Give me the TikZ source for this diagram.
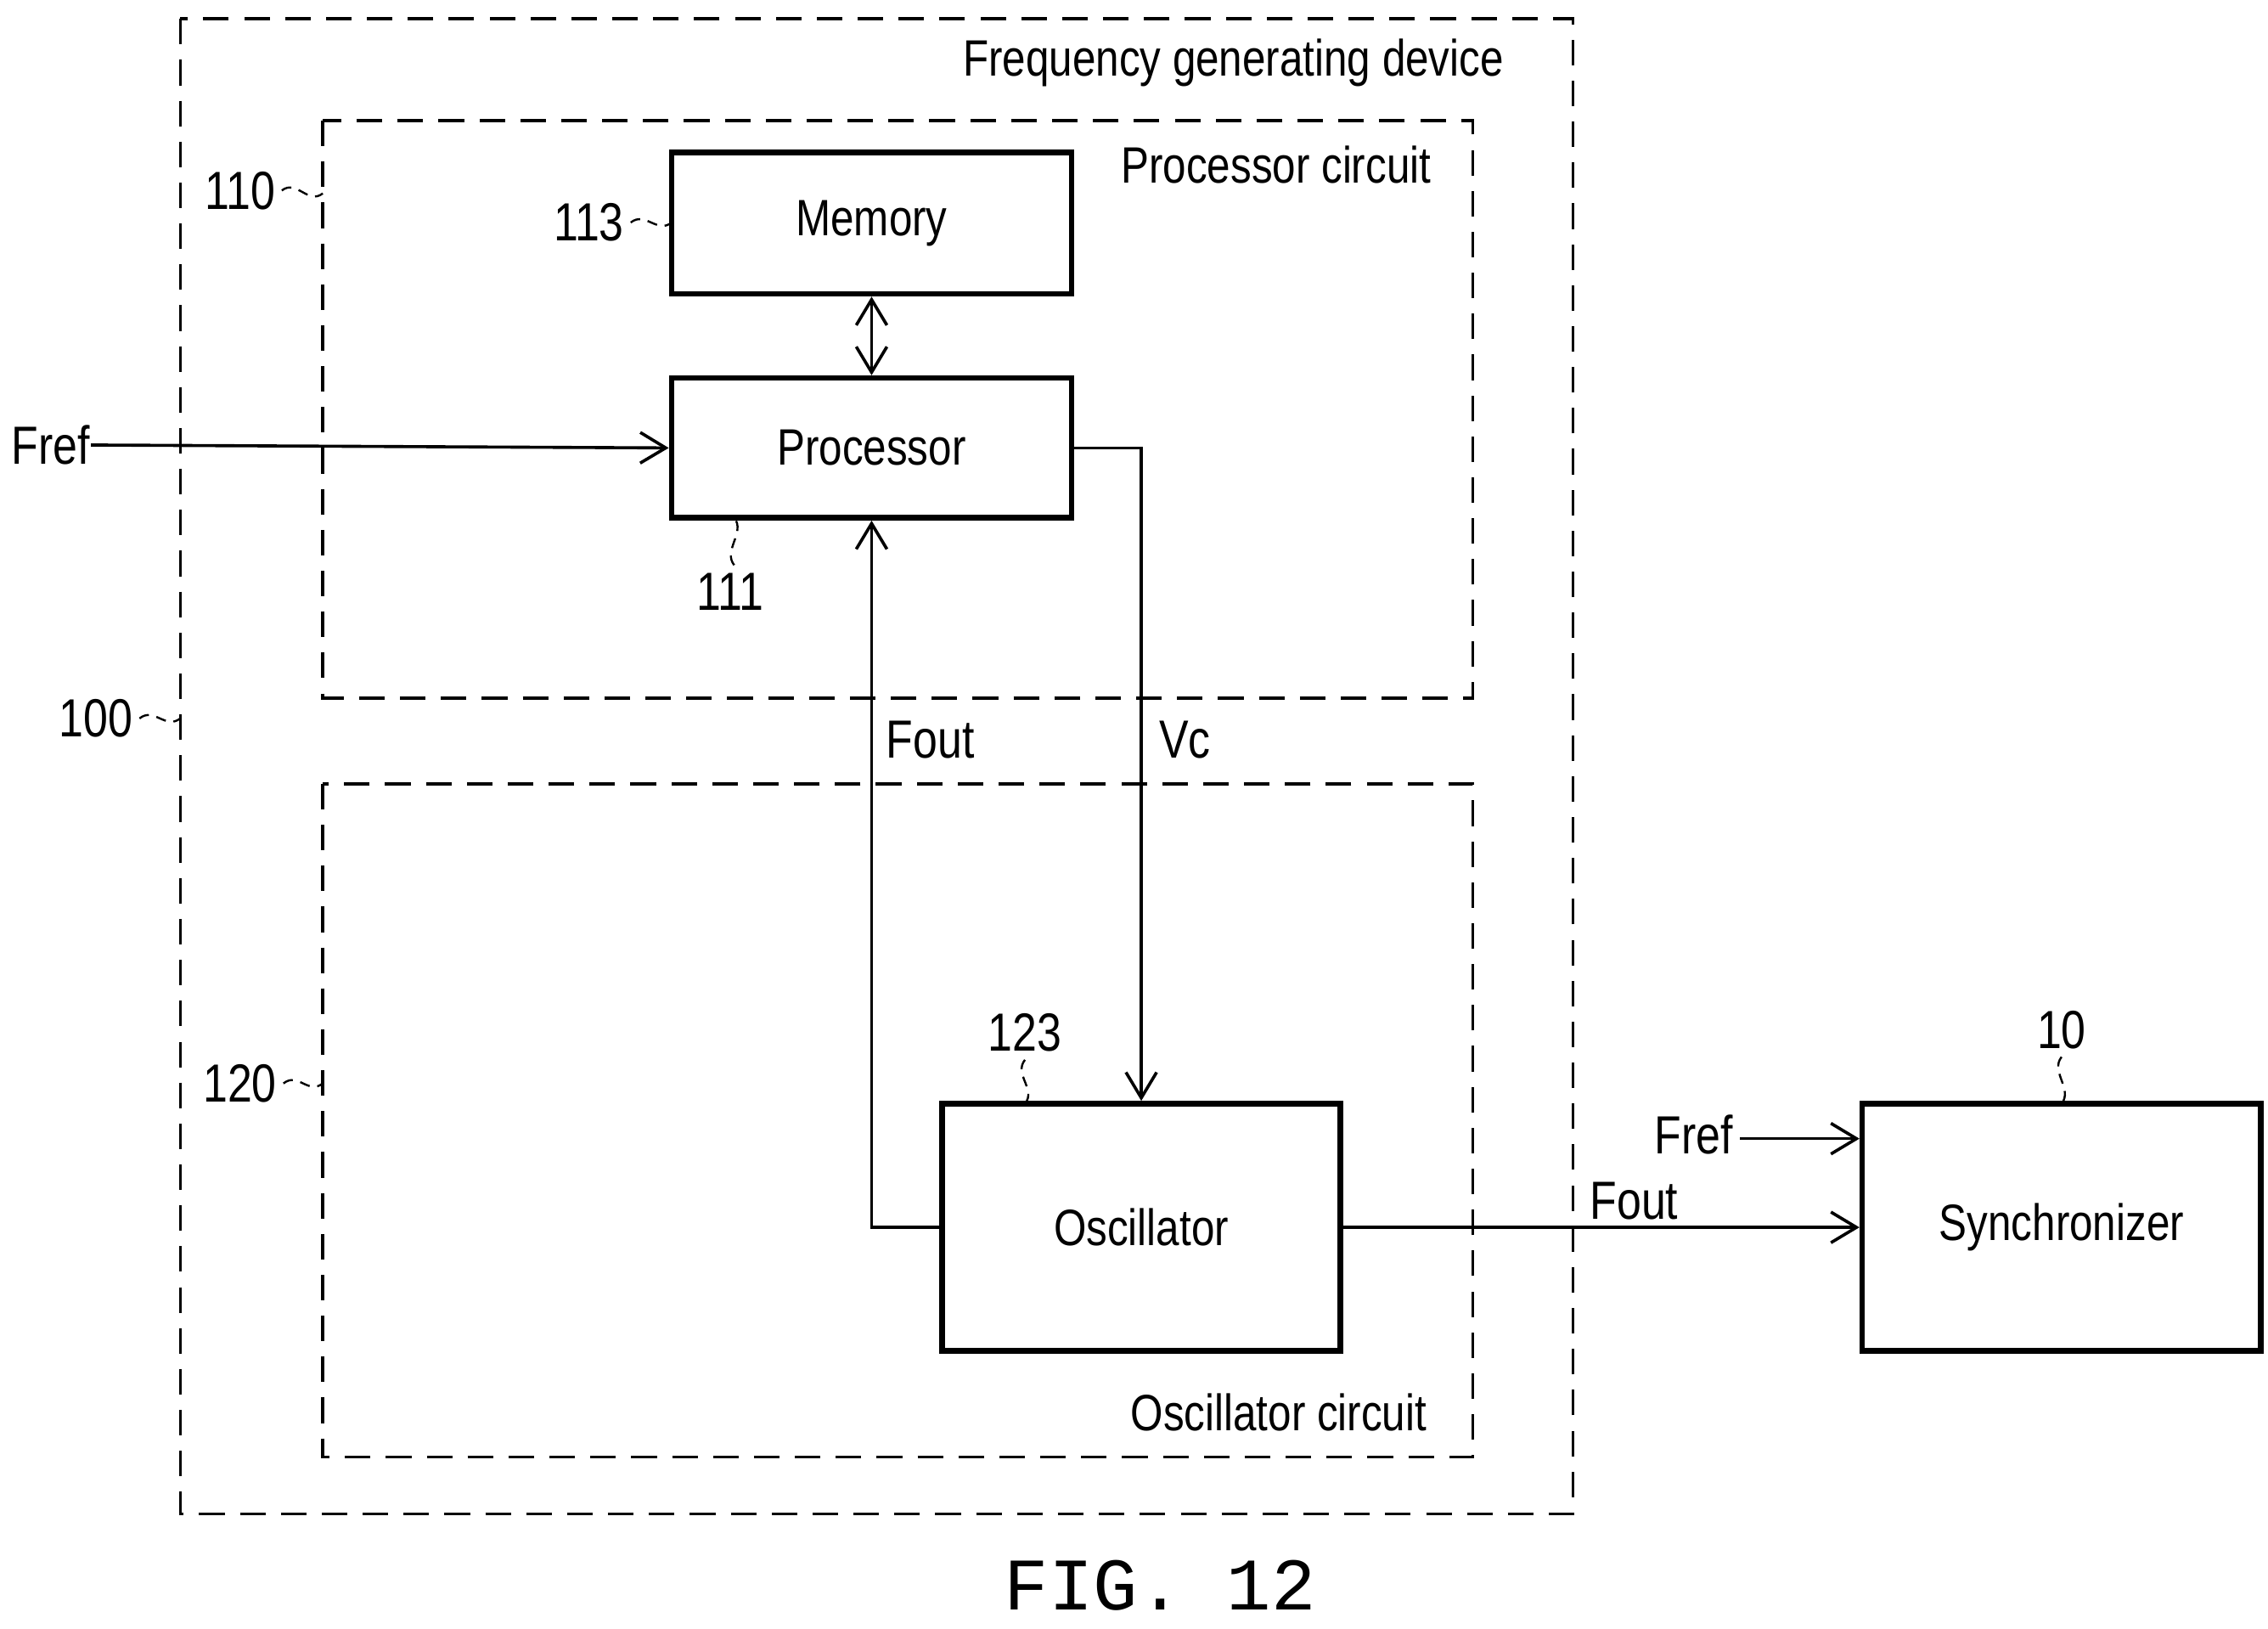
\documentclass[tikz,border=0pt]{standalone}
\usepackage{fontspec}
\setmainfont{Liberation Sans}[FakeStretch=0.82]
\newfontfamily\figfont{Liberation Mono}
\usetikzlibrary{arrows.meta}
\begin{document}
\begin{tikzpicture}[x=0.01cm,y=-0.01cm,
  box/.style={draw,line width=1.1pt},
  grp/.style={draw,dash pattern=on 5pt off 3pt,line width=0.6pt},
  con/.style={line width=0.6pt,-{Straight Barb[length=5pt,width=6pt]}},
  lbl/.style={font=\fontsize{10}{12}\selectfont,inner sep=0pt},
  big/.style={font=\fontsize{10.5}{12}\selectfont,inner sep=0pt},
  lead/.style={line width=0.4pt,dash pattern=on 2pt off 1.5pt}]
\useasboundingbox (0,0) rectangle (1560,1120);
\draw[grp] (124,13) rectangle (1082,1041);
\draw[grp] (222,83) rectangle (1013,480);
\draw[grp] (222,539) rectangle (1013,1002);
\node[box,minimum width=2.75cm,minimum height=0.97cm,lbl] (mem) at (599.5,153.5) {Memory};
\node[box,minimum width=2.75cm,minimum height=0.96cm,lbl] (proc) at (599.5,308) {Processor};
\node[box,minimum width=2.74cm,minimum height=1.7cm,lbl] (osc) at (785,844) {Oscillator};
\node[box,minimum width=2.74cm,minimum height=1.7cm,lbl] (sync) at (1418,844) {Synchronizer};
\node[lbl,anchor=east] (t1) at (1035,43) {Frequency generating device};
\node[lbl,anchor=east] (t2) at (985,113) {Processor circuit};
\node[lbl,anchor=east] (t3) at (982,971) {Oscillator circuit};
\node[big] (fref1) at (35,306) {Fref};
\node[big] (fout1) at (640,509) {Fout};
\node[big] (vc) at (815,509) {Vc};
\node[big] (fref2) at (1165,780) {Fref};
\node[big] (fout2) at (1124,826) {Fout};
\node[font=\figfont\fontsize{14.5}{17}\selectfont,inner sep=0pt] (fig) at (798,1090) {FIG. 12};
\coordinate (c1) at (1197,783);
\draw[con] (fref1.east) -- (proc.west);
\draw[con,{Straight Barb[length=5pt,width=6pt]}-{Straight Barb[length=5pt,width=6pt]}] (mem.south) -- (proc.north);
\draw[con] (proc.east) -| (osc.north);
\draw[con] (osc.west) -| (proc.south);
\draw[con] (osc.east) -- (sync.west);
\draw[con] (c1) -- (c1 -| sync.west);
% reference labels
\node[big] (r110) at (165,131) {110};
\node[big] (r113) at (405,153) {113};
\node[big] (r111) at (502,407) {111};
\node[big] (r100) at (66,494) {100};
\node[big] (r120) at (165,745) {120};
\node[big] (r123) at (705,710) {123};
\node[big] (r10) at (1418,708) {10};
\draw[lead] (r110.east)++(4,0) .. controls +(10,-8) and +(-10,8) .. (222,133);
\draw[lead] (r113.east)++(4,0) .. controls +(10,-8) and +(-10,8) .. (462,153);
\draw[lead] (r100.east)++(4,0) .. controls +(10,-8) and +(-10,8) .. (124,494);
\draw[lead] (r120.east)++(4,0) .. controls +(10,-8) and +(-10,8) .. (222,745);
\draw[lead] (r111.north)++(3,-5) .. controls +(-8,-10) and +(8,10) .. (505,356);
\draw[lead] (r123.south)++(0,5) .. controls +(-8,10) and +(8,-10) .. (705,759);
\draw[lead] (r10.south)++(0,5) .. controls +(-8,10) and +(8,-10) .. (1418,759);
\end{tikzpicture}
\end{document}
